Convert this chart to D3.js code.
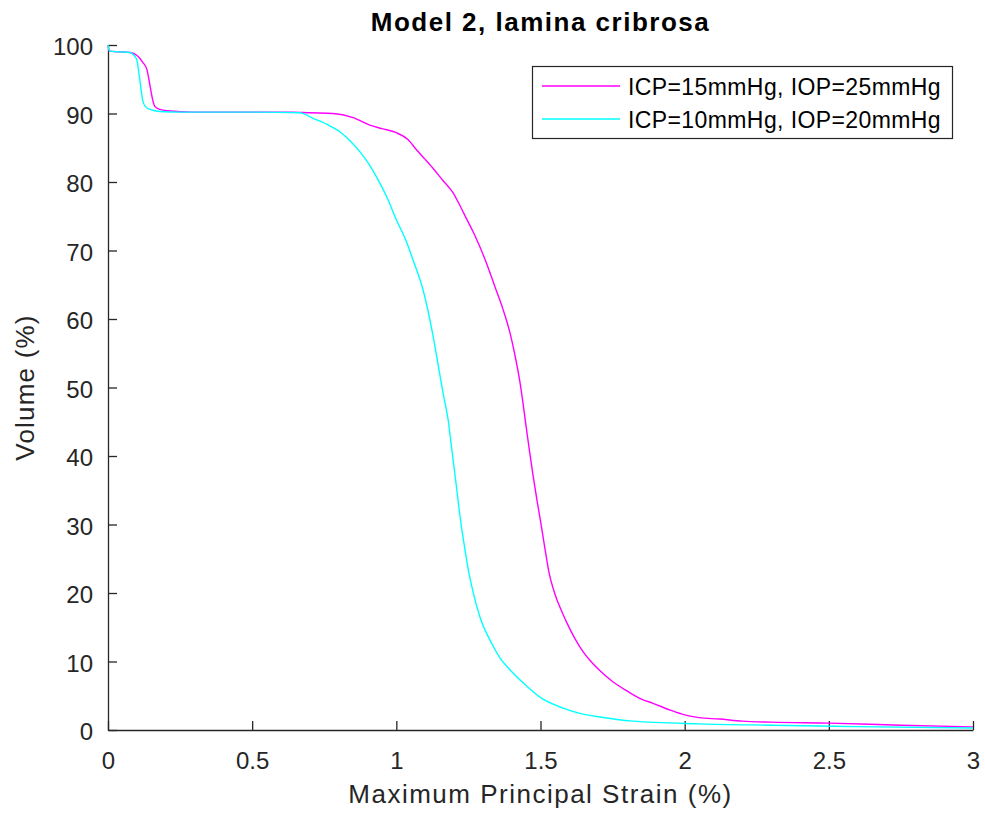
<!DOCTYPE html>
<html>
<head>
<meta charset="utf-8">
<script src="https://cdn.jsdelivr.net/npm/d3@7"></script>
<style>
  html, body { margin: 0; padding: 0; background: #fff; }
  text { font-family: "Liberation Sans", Arial, Helvetica, sans-serif; fill: #262626; }
</style>
</head>
<body>
<svg id="chart" width="985" height="818"></svg>
<script>
// Cumulative volume (%) of lamina cribrosa above a given maximum principal strain (%)
const strainA = [0, 0.005, 0.04, 0.076, 0.1, 0.12, 0.135, 0.146, 0.155, 0.163, 0.18, 0.205, 0.3, 0.5, 0.64,
  0.7, 0.78, 0.85, 0.908, 0.95, 1.0, 1.04, 1.07, 1.1, 1.127, 1.16, 1.197, 1.22, 1.245, 1.27, 1.29, 1.315,
  1.342, 1.37, 1.394, 1.41, 1.429, 1.44, 1.453, 1.465, 1.474, 1.488, 1.5, 1.51, 1.52, 1.53, 1.545, 1.557,
  1.575, 1.592, 1.62, 1.648, 1.675, 1.7, 1.752, 1.8, 1.85, 1.89, 1.95, 2.0, 2.05, 2.12, 2.2, 2.3, 2.5, 2.75, 3.0];
const volumeA = [100, 99.1, 99.0, 98.9, 98.5, 97.5, 96.4, 94, 92, 91, 90.6, 90.4, 90.2, 90.2, 90.2,
  90.1, 90.0, 89.4, 88.3, 87.8, 87.2, 86.2, 84.7, 83.3, 82.0, 80.3, 78.4, 76.6, 74.5, 72.4, 70.5, 67.9,
  64.7, 61.4, 58.0, 55, 50.7, 47.5, 43.4, 39.8, 37.2, 33.5, 30.5, 27.9, 25.3, 22.9, 20.5, 19.0,
  17.2, 15.6, 13.3, 11.4, 10.0, 8.9, 7.0, 5.7, 4.5, 3.9, 2.9, 2.2, 1.8, 1.6, 1.3, 1.15, 1.0, 0.7, 0.45];

const strainB = [0, 0.005, 0.04, 0.076, 0.09, 0.1, 0.11, 0.12, 0.13, 0.146, 0.18, 0.25, 0.5, 0.665, 0.711,
  0.76, 0.805, 0.84, 0.874, 0.905, 0.933, 0.967, 1.0, 1.037, 1.058, 1.093, 1.128, 1.145, 1.162, 1.18, 1.19,
  1.2, 1.21, 1.22, 1.23, 1.24, 1.25, 1.262, 1.29, 1.33, 1.36, 1.394, 1.45, 1.498, 1.578, 1.64, 1.706,
  1.82, 2.053, 2.3, 2.6, 3.0];
const volumeB = [100, 99.1, 99.0, 98.9, 98.5, 97.8, 95, 92, 91, 90.6, 90.3, 90.2, 90.2, 90.1, 89.3,
  88.4, 87.3, 86.0, 84.4, 82.6, 80.6, 77.8, 74.5, 71.1, 68.6, 64.2, 57.4, 53.3, 49.2, 45.2, 41.8,
  38.4, 35, 31.5, 28.5, 25.8, 23.3, 20.9, 16.5, 12.7, 10.5, 8.8, 6.5, 4.8, 3.2, 2.4, 1.9,
  1.3, 0.9, 0.7, 0.5, 0.3];

const seriesNames = ["ICP=15mmHg, IOP=25mmHg", "ICP=10mmHg, IOP=20mmHg"];
const seriesColors = ["#ff00ff", "#00ffff"];
const xTicks = [0, 0.5, 1, 1.5, 2, 2.5, 3];
const yTicks = [0, 10, 20, 30, 40, 50, 60, 70, 80, 90, 100];

const svg = d3.select("#chart");
const margin = { left: 108, right: 12, top: 45, bottom: 88 };
const W = 985, H = 818;

const x = d3.scaleLinear().domain([0, 3]).range([margin.left, W - margin.right]);
const y = d3.scaleLinear().domain([0, 100]).range([H - margin.bottom, margin.top]);

const axisColor = "#262626";

// X axis (ticks pointing into the plot)
const xAxis = svg.append("g")
  .attr("transform", `translate(0,${y(0)})`)
  .call(d3.axisBottom(x).tickValues(xTicks).tickFormat(d3.format("")).tickSizeInner(-9).tickSizeOuter(0));
xAxis.select(".domain").attr("stroke", axisColor).attr("stroke-width", 1.3);
xAxis.selectAll(".tick line").attr("stroke", axisColor).attr("stroke-width", 1.3);
xAxis.selectAll(".tick text")
  .attr("y", 39).attr("dy", 0)
  .attr("font-size", 24).attr("fill", axisColor)
  .attr("font-family", "Liberation Sans, Arial, sans-serif");

// Y axis
const yAxis = svg.append("g")
  .attr("transform", `translate(${x(0)},0)`)
  .call(d3.axisLeft(y).tickValues(yTicks).tickSizeInner(-9).tickSizeOuter(0));
yAxis.select(".domain").attr("stroke", axisColor).attr("stroke-width", 1.3);
yAxis.selectAll(".tick line").attr("stroke", axisColor).attr("stroke-width", 1.3);
yAxis.selectAll(".tick text")
  .attr("x", -15).attr("dy", "0.4em")
  .attr("font-size", 24).attr("fill", axisColor)
  .attr("font-family", "Liberation Sans, Arial, sans-serif");

// Curves
const line = d3.line().x(d => x(d[0])).y(d => y(d[1])).curve(d3.curveMonotoneX);
const series = [
  d3.zip(strainA, volumeA),
  d3.zip(strainB, volumeB)
];
series.forEach((pts, i) => {
  svg.append("path")
    .datum(pts)
    .attr("fill", "none")
    .attr("stroke", seriesColors[i])
    .attr("stroke-width", 1.4)
    .attr("d", line);
});

// Title
svg.append("text")
  .attr("x", (x(0) + x(3)) / 2).attr("y", 31)
  .attr("text-anchor", "middle")
  .attr("font-size", 26).attr("font-weight", "bold")
  .attr("letter-spacing", 1.5)
  .style("fill", "#000")
  .text("Model 2, lamina cribrosa");

// Axis labels
svg.append("text")
  .attr("x", (x(0) + x(3)) / 2).attr("y", 803)
  .attr("text-anchor", "middle")
  .attr("font-size", 26)
  .attr("letter-spacing", 1.5)
  .text("Maximum Principal Strain (%)");

svg.append("text")
  .attr("transform", `translate(34,${(y(0) + y(100)) / 2}) rotate(-90)`)
  .attr("text-anchor", "middle")
  .attr("font-size", 26)
  .attr("letter-spacing", 1.2)
  .text("Volume (%)");

// Legend
const legend = svg.append("g");
legend.append("rect")
  .attr("x", 532.5).attr("y", 66.5).attr("width", 420).attr("height", 72)
  .attr("fill", "#fff").attr("stroke", axisColor).attr("stroke-width", 1.2);
seriesNames.forEach((name, i) => {
  const ly = 86 + i * 33;
  legend.append("line")
    .attr("x1", 542).attr("x2", 620).attr("y1", ly).attr("y2", ly)
    .attr("stroke", seriesColors[i]).attr("stroke-width", 1.4);
  legend.append("text")
    .attr("x", 628).attr("y", ly + 9)
    .attr("font-size", 23).attr("letter-spacing", 0.4)
    .style("fill", "#000")
    .text(name);
});
</script>
</body>
</html>
